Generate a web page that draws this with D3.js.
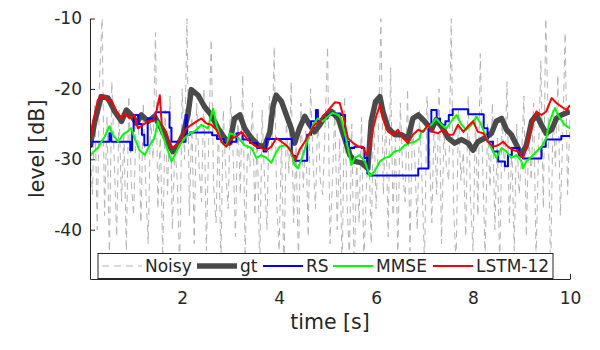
<!DOCTYPE html>
<html>
<head>
<meta charset="utf-8">
<script src="https://cdn.jsdelivr.net/npm/d3@7"></script>
<style>
body { margin: 0; background: #fff; }
text { font-family: "DejaVu Sans", sans-serif; fill: #262626; }
</style>
</head>
<body>
<svg id="chart" width="600" height="350"></svg>
<script>
// tick values / labels
var xTicks = [2, 4, 6, 8, 10];
var yTicks = [-40, -30, -20, -10];
var yTickLabels = ["-40", "-30", "-20", "-10"];
var seriesNames = ["Noisy", "gt", "RS", "MMSE", "LSTM-12"];

// noisy level, one value every 0.05 s from 0.1 s
var noisyStart = 0.1, noisyStep = 0.05;
var noisyLevel = [
  -28,-35,-22,-40,-18,-10,-38,-24,-44,-19,-30,-41,-23,-36,-26,-43,-21,-33,-38,-25,
  -25,-39,-22,-34,-42,-24,-30,-12,-37,-26,-44,-23,-35,-21,-40,-28,-33,-46,-20,-30,
  -10,-38,-24,-42,-22,-31,-36,-20,-43,-27,-13,-34,-39,-25,-45,-23,-32,-37,-21,-29,
  -41,-24,-35,-18,-44,-28,-31,-22,-38,-26,-46,-23,-33,-40,-21,-29,-14,-36,-43,-27,
  -47,-24,-32,-19,-39,-28,-45,-22,-34,-26,-41,-20,-30,-37,-23,-33,-35,-25,-14,-42,
  -33,-23,-40,-27,-46,-21,-36,-44,-25,-47,-30,-39,-24,-45,-34,-28,-42,-22,-37,-26,
  -10,-35,-24,-41,-17,-38,-27,-44,-22,-32,-36,-20,-43,-25,-30,-40,-23,-34,-45,-21,
  -28,-39,-24,-35,-20,-42,-26,-31,-33,-10,-37,-45,-23,-33,-29,-41,-21,-36,-43,-24,
  -38,-15,-31,-44,-25,-34,-22,-40,-27,-46,-24,-32,-19,-39,-28,-43,-25,-35,-30,-21,
  -41,-26,-33,-22,-44,-29,-16,-37,-10,-24,-47,-23,-31,-18,-38,-27,-12,-35,-24
];

// [time s, level dB]
var gtData = [
  [0.1,-28.2],[0.2,-24.6],[0.33,-21.1],[0.47,-21.3],[0.61,-23.2],[0.75,-24.6],[0.85,-23],
  [0.95,-23.7],[1.06,-24.9],[1.16,-23.7],[1.3,-24.6],[1.43,-23.9],[1.57,-25.6],[1.71,-27.7],
  [1.81,-28.9],[1.91,-28],[2.02,-26.5],[2.12,-23.7],[2.19,-20.1],[2.33,-20.9],[2.46,-22.5],
  [2.6,-23.7],[2.74,-25.6],[2.88,-27],[2.98,-27.7],[3.08,-24.2],[3.19,-23.7],[3.29,-25.6],
  [3.43,-27],[3.57,-28],[3.7,-28.2],[3.81,-26.1],[3.88,-22.3],[3.94,-20.9],[4.05,-21.8],
  [4.15,-23.7],[4.25,-25.6],[4.32,-27.7],[4.42,-25.6],[4.53,-23.9],[4.63,-25.1],[4.73,-26.1],
  [4.84,-25.1],[4.94,-23.9],[5.08,-23.2],[5.22,-24.2],[5.35,-27],[5.46,-29.4],[5.56,-30.3],
  [5.7,-30.5],[5.83,-31.3],[5.9,-24.6],[5.99,-21.8],[6.08,-21.1],[6.14,-23.2],[6.25,-25.6],
  [6.39,-26.5],[6.52,-26.5],[6.66,-27],[6.76,-24.2],[6.87,-23.7],[7.0,-24.6],[7.14,-25.8],
  [7.24,-24.4],[7.35,-25.3],[7.49,-27],[7.62,-27.7],[7.76,-27.2],[7.9,-27.7],[8.0,-28.7],
  [8.1,-27.5],[8.24,-27],[8.38,-26.3],[8.48,-24.6],[8.59,-24.2],[8.69,-25.8],[8.79,-26.5],
  [8.9,-28],[9.0,-29.4],[9.1,-28],[9.21,-24.6],[9.31,-23.7],[9.41,-25.1],[9.51,-26.3],
  [9.62,-25.8],[9.72,-24.2],[9.82,-23.7],[10,-23.2]
];

var rsData = [
  [0.1,-28.2],[0.13,-27.5],[0.5,-26.3],[0.54,-27.5],[0.93,-28.7],[0.97,-26],[1.0,-23.7],
  [1.1,-25],[1.17,-26.5],[1.22,-28],[1.29,-24.2],[1.45,-23.3],[1.74,-25.5],[1.78,-27.5],
  [2.07,-23.7],[2.1,-26.5],[2.16,-26.2],[2.62,-26.6],[2.72,-27.1],[2.86,-27.7],[3.0,-27.5],
  [3.12,-26.3],[3.25,-27.2],[3.4,-27.7],[3.55,-28.4],[3.68,-28.9],[3.74,-27.1],[4.26,-29.5],
  [4.33,-30.2],[4.58,-26.5],[4.66,-24.6],[4.76,-23],[4.8,-24.6],[4.87,-24.2],[5.0,-23.7],
  [5.15,-23.5],[5.27,-23.7],[5.36,-27.5],[5.44,-28.4],[5.55,-28.2],[5.7,-28.4],[5.76,-29.8],
  [5.82,-32],[5.87,-32.3],[6.87,-31.3],[7.08,-25.1],[7.14,-23],[7.25,-24.2],[7.32,-25.1],
  [7.43,-24.6],[7.5,-23.7],[7.58,-22.9],[7.9,-23.6],[8.22,-25.6],[8.3,-27.5],[8.41,-28.9],
  [8.52,-30.3],[8.66,-31],[8.72,-29.4],[8.8,-28.4],[8.95,-29.4],[9.03,-29.9],[9.41,-28.2],
  [9.5,-27.2],[9.82,-26.7],[10,-26.7]
];

var mmseData = [
  [0.1,-29.6],[0.16,-29],[0.26,-28.4],[0.4,-26.8],[0.5,-25.3],[0.57,-26.5],[0.68,-27.5],
  [0.78,-26.5],[0.88,-26],[0.95,-25.6],[1.02,-27],[1.12,-28.7],[1.23,-29.4],[1.33,-28],
  [1.43,-27],[1.5,-24.6],[1.57,-26],[1.67,-28],[1.78,-30.3],[1.85,-29.4],[1.95,-28],
  [2.05,-27],[2.16,-26.3],[2.26,-26],[2.4,-25.1],[2.53,-25.6],[2.64,-22.8],[2.71,-25.1],
  [2.81,-27.5],[2.91,-28.2],[2.98,-26.3],[3.08,-26.5],[3.19,-27.2],[3.29,-28],[3.43,-28.4],
  [3.53,-29.8],[3.63,-29.4],[3.74,-29.8],[3.84,-30.5],[3.91,-29.4],[4.01,-28.2],[4.12,-28],
  [4.22,-28.4],[4.32,-30.8],[4.39,-31.3],[4.49,-29.4],[4.6,-27],[4.7,-25.1],[4.8,-24.2],
  [4.9,-24.6],[5.01,-23.9],[5.11,-23.4],[5.22,-23.7],[5.28,-24.2],[5.35,-26.1],[5.42,-28.4],
  [5.49,-30.8],[5.56,-29.8],[5.66,-29.4],[5.77,-30.3],[5.87,-32.4],[5.97,-31.7],[6.08,-30.3],
  [6.18,-29.8],[6.28,-29.6],[6.38,-28.9],[6.49,-28.7],[6.59,-28],[6.69,-27.7],[6.8,-27.5],
  [6.9,-27],[6.93,-26.1],[7.04,-25.6],[7.14,-25.1],[7.24,-24.2],[7.35,-25.1],[7.45,-25.6],
  [7.55,-24.6],[7.66,-23.7],[7.76,-25.1],[7.86,-25.8],[7.97,-25.1],[8.07,-23.9],[8.17,-25.1],
  [8.28,-27],[8.38,-28.4],[8.48,-29.8],[8.59,-28.4],[8.69,-28.9],[8.79,-29.8],[8.9,-29.4],
  [9.0,-30.3],[9.03,-31.3],[9.1,-30.3],[9.21,-29.6],[9.31,-28.9],[9.41,-28.2],[9.51,-27],
  [9.58,-24.6],[9.69,-22.7],[9.75,-23.7],[9.82,-24.4],[9.89,-25.1],[10,-25.6]
];

var lstmData = [
  [0.1,-28.2],[0.16,-25.1],[0.26,-21.6],[0.37,-20.9],[0.47,-21.8],[0.54,-21.6],[0.64,-23.2],
  [0.75,-24.2],[0.82,-23.5],[0.92,-24.2],[1.02,-23.7],[1.09,-25.6],[1.19,-25.1],[1.3,-24.6],
  [1.4,-24.6],[1.47,-23.2],[1.54,-20.9],[1.58,-25.1],[1.67,-26.1],[1.78,-28.4],[1.88,-28],
  [1.98,-27],[2.09,-25.6],[2.19,-25.1],[2.3,-24.6],[2.4,-24.2],[2.5,-24.9],[2.6,-25.1],
  [2.71,-25.8],[2.81,-27.5],[2.91,-28.2],[3.02,-27],[3.12,-26.8],[3.22,-26.1],[3.33,-27],
  [3.43,-27.7],[3.53,-28.2],[3.63,-28.4],[3.74,-28.7],[3.84,-28.2],[3.94,-27],[4.05,-27.5],
  [4.15,-28],[4.25,-28.9],[4.34,-30.1],[4.42,-28.7],[4.53,-27.5],[4.63,-26.3],[4.73,-25.1],
  [4.84,-24.6],[4.94,-23.7],[5.04,-22.8],[5.15,-21.9],[5.25,-22],[5.32,-23.7],[5.42,-27],
  [5.53,-27.7],[5.63,-28.2],[5.73,-28.2],[5.8,-29.4],[5.87,-28.4],[5.94,-25.6],[6.01,-23.7],
  [6.08,-22.3],[6.14,-24.2],[6.25,-26.1],[6.35,-26.5],[6.45,-25.8],[6.56,-27],[6.66,-27.7],
  [6.76,-26.5],[6.87,-25.8],[6.97,-26.1],[7.07,-25.1],[7.17,-26.1],[7.28,-26.3],[7.38,-25.8],
  [7.48,-26.5],[7.59,-26.5],[7.69,-25.1],[7.8,-26.1],[7.9,-25.3],[8.0,-24.6],[8.1,-26.1],
  [8.21,-26.3],[8.31,-27.5],[8.41,-28.2],[8.52,-28],[8.62,-27.5],[8.72,-28.2],[8.83,-28.7],
  [8.93,-28.9],[9.03,-29.8],[9.1,-28.4],[9.21,-25.1],[9.31,-23.2],[9.41,-23.7],[9.51,-23.2],
  [9.62,-21.3],[9.72,-22],[9.82,-22.5],[9.93,-23],[10,-22.3]
];

var svg = d3.select("#chart");
var plotLeft = 90, plotRight = 570, plotTop = 18.5, plotBottom = 279;

var x = d3.scaleLinear().domain([0.1, 10]).range([plotLeft, plotRight]);
var y = d3.scaleLinear().domain([-47, -10]).range([plotBottom, plotTop]);

svg.append("defs").append("clipPath")
    .attr("id", "plotClip")
  .append("rect")
    .attr("x", plotLeft)
    .attr("y", plotTop)
    .attr("width", plotRight - plotLeft)
    .attr("height", plotBottom - plotTop);

var line = d3.line()
    .x(function (d) { return x(d[0]); })
    .y(function (d) { return y(d[1]); });

var stepLine = d3.line()
    .curve(d3.curveStepAfter)
    .x(function (d) { return x(d[0]); })
    .y(function (d) { return y(d[1]); });

var noisyData = noisyLevel.map(function (v, i) { return [noisyStart + i * noisyStep, v]; });

var styles = {
  "Noisy":   { color: "#b3b3b3", width: 1,   dash: "7,5" },
  "gt":      { color: "#4a4a4a", width: 5.5, dash: null },
  "RS":      { color: "#0000ff", width: 2,   dash: null },
  "MMSE":    { color: "#00ff00", width: 2,   dash: null },
  "LSTM-12": { color: "#ff0000", width: 2,   dash: null }
};

var plot = svg.append("g").attr("clip-path", "url(#plotClip)");

function drawSeries(data, name, gen) {
  var s = styles[name];
  plot.append("path")
      .datum(data)
      .attr("d", gen)
      .attr("fill", "none")
      .attr("stroke", s.color)
      .attr("stroke-width", s.width)
      .attr("stroke-linejoin", "round")
      .attr("stroke-dasharray", s.dash);
}

drawSeries(noisyData, "Noisy", line);
drawSeries(gtData, "gt", line);
drawSeries(rsData, "RS", stepLine);
drawSeries(mmseData, "MMSE", line);
drawSeries(lstmData, "LSTM-12", line);

// axes (box off, ticks inward)
var xAxis = svg.append("g")
    .attr("transform", "translate(0," + plotBottom + ")")
    .call(d3.axisBottom(x).tickValues(xTicks).tickSizeInner(-5).tickSizeOuter(0).tickPadding(13));

var yAxis = svg.append("g")
    .attr("transform", "translate(" + plotLeft + ",0)")
    .call(d3.axisLeft(y).tickValues(yTicks).tickSizeInner(-5).tickSizeOuter(0).tickPadding(8)
      .tickFormat(function (d, i) { return yTickLabels[i]; }));

[xAxis, yAxis].forEach(function (a) {
  a.attr("font-size", 17).attr("font-family", "DejaVu Sans");
  a.selectAll("path, line").attr("stroke", "#262626");
  a.selectAll("text").attr("fill", "#262626");
});

svg.append("text")
    .attr("x", (plotLeft + plotRight) / 2)
    .attr("y", 329)
    .attr("text-anchor", "middle")
    .attr("font-size", 20.5)
    .text("time [s]");

svg.append("text")
    .attr("transform", "translate(44," + ((plotTop + plotBottom) / 2) + ") rotate(-90)")
    .attr("text-anchor", "middle")
    .attr("font-size", 20.5)
    .text("level [dB]");

// legend
var legend = svg.append("g");
legend.append("rect")
    .attr("x", 98)
    .attr("y", 253.5)
    .attr("width", 455)
    .attr("height", 25)
    .attr("fill", "#fff")
    .attr("stroke", "#262626")
    .attr("stroke-width", 1);

var legendLineX = [102, 197, 263, 333, 433];
seriesNames.forEach(function (name, i) {
  var s = styles[name];
  legend.append("line")
      .attr("x1", legendLineX[i])
      .attr("x2", legendLineX[i] + 40)
      .attr("y1", 266)
      .attr("y2", 266)
      .attr("stroke", s.color)
      .attr("stroke-width", s.width)
      .attr("stroke-dasharray", s.dash);
  legend.append("text")
      .attr("x", legendLineX[i] + 43)
      .attr("y", 272)
      .attr("font-size", 17)
      .text(name);
});
</script>
</body>
</html>
